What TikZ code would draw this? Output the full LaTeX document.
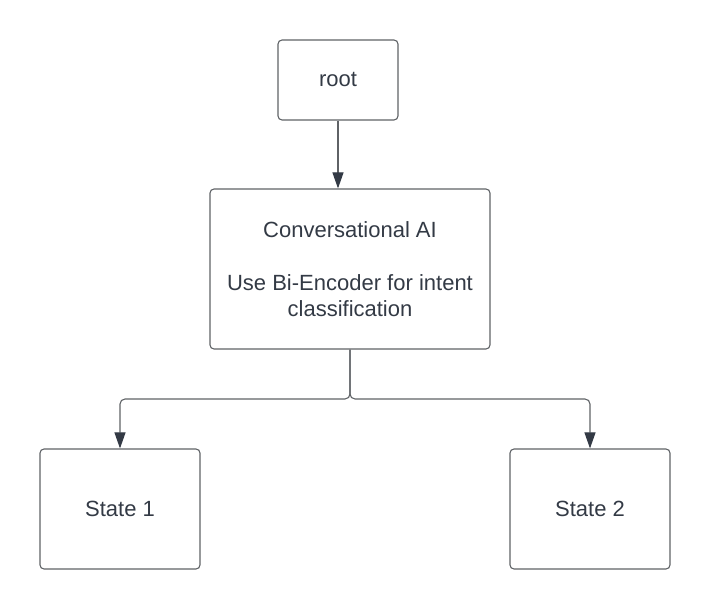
\documentclass[tikz,border=0pt]{standalone}
\usepackage{fontspec}
\setmainfont{Liberation Sans}
\usepackage{xcolor}
\usepackage{tikz}
\usetikzlibrary{arrows, arrows.meta}
\definecolor{lineGray}{HTML}{5F6266}
\definecolor{textDark}{HTML}{333A45}

\begin{document}
\begin{tikzpicture}[x=1pt, y=-1pt]
\tikzstyle{box}=[draw=lineGray, line width=1.1pt, rounded corners=4pt, text=textDark, align=center, inner sep=0pt, font=\fontsize{22pt}{26.5pt}\selectfont]
\tikzstyle{link}=[draw=lineGray, line width=1.1pt, rounded corners=5pt, -{Triangle[length=16pt, width=11pt, color=textDark]}]
\useasboundingbox (0,0) rectangle (710,609);
\node[box, minimum width=120pt, minimum height=80pt] (root) at (338,80) {root};
\node[box, minimum width=280pt, minimum height=160pt] (conv) at (350,269) {Conversational AI\\[26.5pt]Use Bi-Encoder for intent\\classification};
\node[box, minimum width=160pt, minimum height=120pt] (s1) at (120,509) {State 1};
\node[box, minimum width=160pt, minimum height=120pt] (s2) at (590,509) {State 2};
\coordinate (split) at (350,399);

\path[link] (root.south) -- (root.south |- conv.north);
\path[link] (conv.south) -- (split) -| (s1.north);
\path[link] (conv.south) -- (split) -| (s2.north);

\end{tikzpicture}
\end{document}
